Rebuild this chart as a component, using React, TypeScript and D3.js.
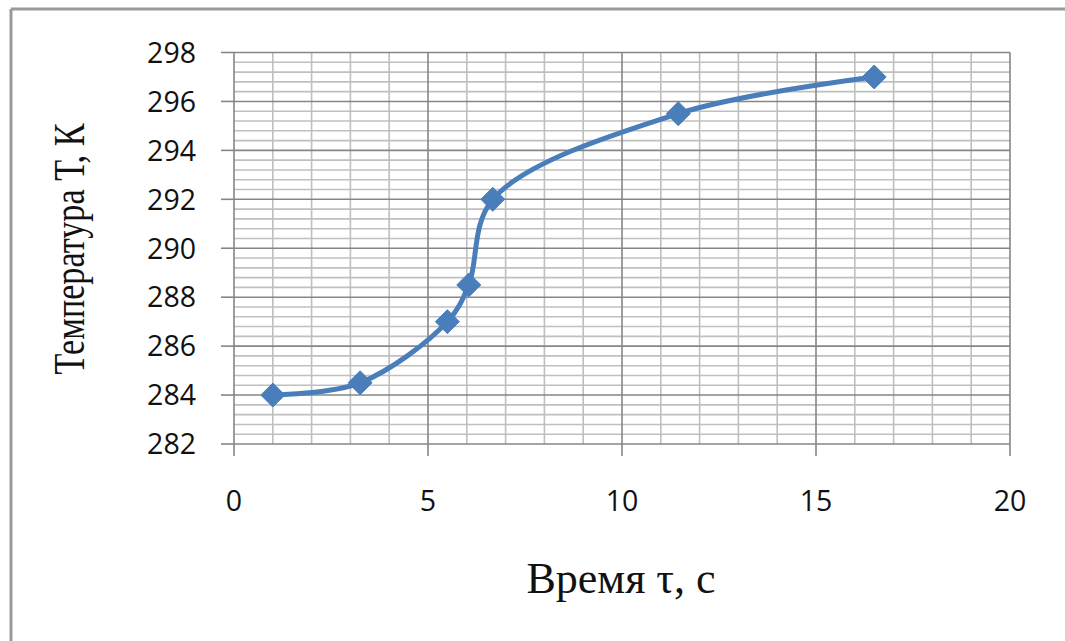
import React, { useEffect } from "react";
import * as d3 from "d3";

const timeValues = [1, 3.25, 5.5, 6.05, 6.67, 11.45, 16.5];
const tempValues = [284, 284.5, 287, 288.5, 292, 295.5, 297];
const xTicks = [0, 5, 10, 15, 20];
const yTicks = [282, 284, 286, 288, 290, 292, 294, 296, 298];
const xTitle = "Время τ, с";
const yTitle = "Температура Т, К";

const W = 1065;
const H = 641;

export default function App() {
  useEffect(() => {
    document.body.style.margin = "0";
  }, []);

  const x = d3.scaleLinear().domain([0, 20]).range([234, 1010]);
  const y = d3.scaleLinear().domain([282, 298]).range([444, 52.5]);

  const xMinor = d3.range(0, 20.001, 1).filter((v) => v % 5 !== 0);
  const yMinor = d3
    .range(0, 40)
    .map((i) => 282 + i * 0.4)
    .filter((v) => Math.abs(v / 2 - Math.round(v / 2)) > 0.01);

  const pts = timeValues.map((t, i) => [x(t), y(tempValues[i])] as [number, number]);
  const line = d3.line().curve(d3.curveCatmullRom.alpha(0.5));
  const pathD = line(pts) || "";

  const diamond = (cx: number, cy: number) =>
    `M${cx},${cy - 12}L${cx + 12},${cy}L${cx},${cy + 12}L${cx - 12},${cy}Z`;

  const [x0, x1] = x.range();
  const [y0, y1] = y.range();

  return (
    <svg width={W} height={H} style={{ position: "absolute", left: 0, top: 0, background: "#fff" }}>
      <rect x={0} y={0} width={W} height={H} fill="#fff" />
      {/* outer border (left & top) */}
      <line x1={11} y1={9} x2={11} y2={H} stroke="#9a9a9a" strokeWidth={3} />
      <line x1={11} y1={9} x2={W} y2={9} stroke="#9a9a9a" strokeWidth={3} />

      {/* minor gridlines */}
      {yMinor.map((v) => (
        <line key={"ym" + v} x1={x0} x2={x1} y1={y(v)} y2={y(v)} stroke="#bfbfbf" strokeWidth={1.6} />
      ))}
      {xMinor.map((v) => (
        <line key={"xm" + v} x1={x(v)} x2={x(v)} y1={y0} y2={y1} stroke="#bfbfbf" strokeWidth={1.6} />
      ))}
      {/* major gridlines */}
      {yTicks.map((v) => (
        <line key={"yM" + v} x1={x0} x2={x1} y1={y(v)} y2={y(v)} stroke="#868686" strokeWidth={1.6} />
      ))}
      {xTicks.map((v) => (
        <line key={"xM" + v} x1={x(v)} x2={x(v)} y1={y0} y2={y1} stroke="#868686" strokeWidth={1.6} />
      ))}

      {/* tick marks */}
      {yTicks.map((v) => (
        <line key={"yt" + v} x1={x0 - 13} x2={x0} y1={y(v)} y2={y(v)} stroke="#868686" strokeWidth={1.6} />
      ))}
      {xTicks.map((v) => (
        <line key={"xt" + v} x1={x(v)} x2={x(v)} y1={y0} y2={y0 + 12} stroke="#868686" strokeWidth={1.6} />
      ))}

      {/* tick labels */}
      {yTicks.map((v) => (
        <text
          key={"yl" + v}
          x={196}
          y={y(v)}
          dy="0.36em"
          textAnchor="end"
          fontFamily="'Open Sans', sans-serif"
          fontSize={28.5}
          fill="#111"
        >
          {v}
        </text>
      ))}
      {xTicks.map((v) => (
        <text
          key={"xl" + v}
          x={x(v)}
          y={501}
          dy="0.36em"
          textAnchor="middle"
          fontFamily="'Open Sans', sans-serif"
          fontSize={28.5}
          fill="#111"
        >
          {v}
        </text>
      ))}

      {/* series */}
      <path d={pathD} fill="none" stroke="#4a7ebb" strokeWidth={5} strokeLinecap="round" strokeLinejoin="round" />
      {pts.map(([cx, cy], i) => (
        <path key={"m" + i} d={diamond(cx, cy)} fill="#4a7ebb" stroke="#4a7ebb" strokeWidth={1} />
      ))}

      {/* axis titles */}
      <text
        x={621}
        y={593}
        textAnchor="middle"
        fontFamily="'Liberation Serif', 'Times New Roman', serif"
        fontSize={44}
        fill="#111"
      >
        {xTitle}
      </text>
      <text
        transform={`translate(84,249) rotate(-90) scale(0.76,1)`}
        textAnchor="middle"
        fontFamily="'Liberation Serif', 'Times New Roman', serif"
        fontSize={45}
        fill="#111"
      >
        {yTitle}
      </text>
    </svg>
  );
}
